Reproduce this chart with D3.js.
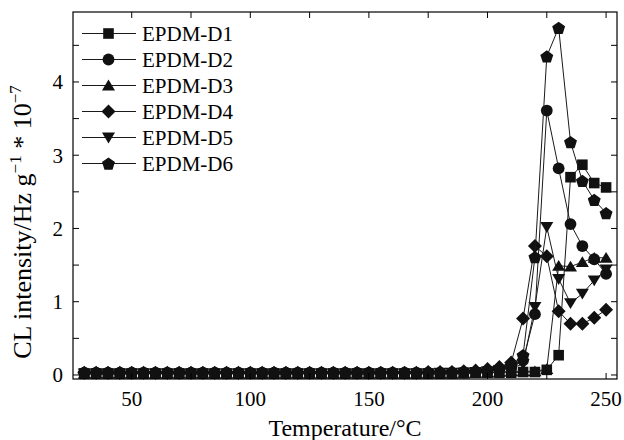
<!DOCTYPE html>
<html lang="en">
<head>
    <meta charset="UTF-8">
    <title>CL intensity</title>
    <script src="https://cdn.jsdelivr.net/npm/d3@7/dist/d3.min.js"></script>
    <style>
        body { margin: 0; background: #fff; }
        svg { display: block; font-family: "Liberation Serif", "Times New Roman", serif; }
        svg .frame { fill: none; stroke: #000; stroke-width: 1.2px; }
        svg .tick-line { stroke: #000; stroke-width: 1px; }
        svg .series-line { fill: none; stroke: #1a1a1a; stroke-width: 1px; }
        svg .marker { fill: #111; }
    </style>
</head>
<body>
    <svg width="624" height="440"></svg>
    <script>
        // temperatures (°C)
        var temps = [30, 35, 40, 45, 50, 55, 60, 65, 70, 75, 80, 85, 90, 95, 100,
            105, 110, 115, 120, 125, 130, 135, 140, 145, 150, 155, 160, 165, 170, 175,
            180, 185, 190, 195, 200, 205, 210, 215, 220, 225, 230, 235, 240, 245, 250];

        var names = ['EPDM-D1', 'EPDM-D2', 'EPDM-D3', 'EPDM-D4', 'EPDM-D5', 'EPDM-D6'];

        var d1 = [0.02, 0.02, 0.02, 0.02, 0.02, 0.02, 0.02, 0.02, 0.02, 0.02, 0.02, 0.02, 0.02, 0.02, 0.02,
            0.02, 0.02, 0.02, 0.02, 0.02, 0.02, 0.02, 0.02, 0.02, 0.02, 0.02, 0.02, 0.02, 0.02, 0.02,
            0.02, 0.02, 0.03, 0.03, 0.03, 0.03, 0.03, 0.04, 0.04, 0.07, 0.27, 2.70, 2.87, 2.62, 2.56];
        var d2 = [0.03, 0.03, 0.03, 0.03, 0.03, 0.03, 0.03, 0.03, 0.03, 0.03, 0.03, 0.03, 0.03, 0.03, 0.03,
            0.03, 0.03, 0.03, 0.03, 0.03, 0.03, 0.03, 0.03, 0.03, 0.03, 0.03, 0.03, 0.03, 0.03, 0.03,
            0.03, 0.03, 0.04, 0.04, 0.05, 0.07, 0.10, 0.20, 0.83, 3.61, 2.82, 2.06, 1.76, 1.58, 1.38];
        var d3s = [0.02, 0.02, 0.02, 0.02, 0.02, 0.02, 0.02, 0.02, 0.02, 0.02, 0.02, 0.02, 0.02, 0.02, 0.02,
            0.02, 0.02, 0.02, 0.02, 0.02, 0.02, 0.02, 0.02, 0.02, 0.02, 0.02, 0.02, 0.02, 0.02, 0.02,
            0.02, 0.02, 0.02, 0.03, 0.03, 0.04, 0.05, 0.05, 0.05, 0.08, 1.49, 1.48, 1.54, 1.60, 1.60];
        var d4 = [0.03, 0.03, 0.03, 0.03, 0.03, 0.03, 0.03, 0.03, 0.03, 0.03, 0.03, 0.03, 0.03, 0.03, 0.03,
            0.03, 0.03, 0.03, 0.03, 0.03, 0.03, 0.03, 0.03, 0.03, 0.03, 0.03, 0.03, 0.03, 0.03, 0.04,
            0.04, 0.04, 0.05, 0.06, 0.08, 0.11, 0.17, 0.77, 1.76, 1.62, 0.87, 0.70, 0.70, 0.78, 0.89];
        var d5 = [0.02, 0.02, 0.02, 0.02, 0.02, 0.02, 0.02, 0.02, 0.02, 0.02, 0.02, 0.02, 0.02, 0.02, 0.02,
            0.02, 0.02, 0.02, 0.02, 0.02, 0.02, 0.02, 0.02, 0.02, 0.02, 0.02, 0.02, 0.02, 0.02, 0.02,
            0.03, 0.03, 0.03, 0.04, 0.05, 0.07, 0.09, 0.15, 0.93, 2.02, 1.31, 0.98, 1.11, 1.29, 1.44];
        var d6 = [0.03, 0.03, 0.03, 0.03, 0.03, 0.03, 0.03, 0.03, 0.03, 0.03, 0.03, 0.03, 0.03, 0.03, 0.03,
            0.03, 0.03, 0.03, 0.03, 0.03, 0.03, 0.03, 0.03, 0.03, 0.03, 0.03, 0.03, 0.03, 0.03, 0.03,
            0.03, 0.04, 0.04, 0.05, 0.06, 0.09, 0.13, 0.27, 1.61, 4.35, 4.74, 3.18, 2.65, 2.39, 2.21];

        var xTicks = [50, 100, 150, 200, 250];
        var yTicks = [0, 1, 2, 3, 4];

        var svg = d3.select('svg'),
            plotL = 73, plotR = 617, plotT = 12, plotB = 379;

        var x = d3.scaleLinear().domain([25.25, 254.6]).range([plotL, plotR]),
            y = d3.scaleLinear().domain([-0.055, 4.955]).range([plotB, plotT]);

        // marker shapes, r ~ half width
        function square(r) { return 'M' + (-r) + ',' + (-r) + 'H' + r + 'V' + r + 'H' + (-r) + 'Z'; }
        function circle(r) { return 'M' + r + ',0A' + r + ',' + r + ' 0 1,1 ' + (-r) + ',0A' + r + ',' + r + ' 0 1,1 ' + r + ',0Z'; }
        function triUp(r) { return 'M0,' + (-r * 0.95) + 'L' + (r * 1.05) + ',' + (r * 0.8) + 'L' + (-r * 1.05) + ',' + (r * 0.8) + 'Z'; }
        function triDown(r) { return 'M0,' + (r * 0.95) + 'L' + (r * 1.05) + ',' + (-r * 0.8) + 'L' + (-r * 1.05) + ',' + (-r * 0.8) + 'Z'; }
        function diamond(r) { return 'M0,' + (-r) + 'L' + r + ',0L0,' + r + 'L' + (-r) + ',0Z'; }
        function pentagon(r) {
            var p = [];
            for (var i = 0; i < 5; i++) {
                var a = -Math.PI / 2 + i * 2 * Math.PI / 5;
                p.push((r * Math.cos(a)).toFixed(2) + ',' + (r * Math.sin(a) + r * 0.1).toFixed(2));
            }
            return 'M' + p.join('L') + 'Z';
        }

        var series = [
            { name: names[0], values: d1, shape: square(5.3) },
            { name: names[1], values: d2, shape: circle(5.9) },
            { name: names[2], values: d3s, shape: triUp(6.2) },
            { name: names[3], values: d4, shape: diamond(7) },
            { name: names[4], values: d5, shape: triDown(6.2) },
            { name: names[5], values: d6, shape: pentagon(6.8) }
        ];

        var line = d3.line()
            .x(function(d) { return x(d.t); })
            .y(function(d) { return y(d.v); });

        var plot = svg.append('g');

        series.forEach(function(s) {
            var pts = temps.map(function(t, i) { return { t: t, v: s.values[i] }; });
            var g = plot.append('g');
            g.append('path')
                .classed('series-line', true)
                .attr('d', line(pts));
            g.selectAll('path.marker')
                .data(pts)
                .enter()
                .append('path')
                .classed('marker', true)
                .attr('transform', function(d) { return 'translate(' + x(d.t) + ',' + y(d.v) + ')'; })
                .attr('d', s.shape);
        });

        // inward ticks on all four sides
        var xMinor = d3.range(50, 251, 25),
            yMinor = d3.range(0, 4.51, 0.5),
            tl = 6;

        var ticks = svg.append('g');
        xMinor.forEach(function(t) {
            ticks.append('line').classed('tick-line', true)
                .attr('x1', x(t)).attr('x2', x(t)).attr('y1', plotB).attr('y2', plotB - tl);
            ticks.append('line').classed('tick-line', true)
                .attr('x1', x(t)).attr('x2', x(t)).attr('y1', plotT).attr('y2', plotT + tl);
        });
        yMinor.forEach(function(v) {
            ticks.append('line').classed('tick-line', true)
                .attr('x1', plotL).attr('x2', plotL + tl).attr('y1', y(v)).attr('y2', y(v));
            ticks.append('line').classed('tick-line', true)
                .attr('x1', plotR).attr('x2', plotR - tl).attr('y1', y(v)).attr('y2', y(v));
        });

        svg.append('rect')
            .classed('frame', true)
            .attr('x', plotL).attr('y', plotT)
            .attr('width', plotR - plotL).attr('height', plotB - plotT);

        // tick labels
        svg.append('g').selectAll('text')
            .data(xTicks)
            .enter()
            .append('text')
            .attr('x', function(d) { return x(d); })
            .attr('y', 406)
            .attr('text-anchor', 'middle')
            .attr('font-size', 21)
            .text(function(d) { return d; });

        svg.append('g').selectAll('text')
            .data(yTicks)
            .enter()
            .append('text')
            .attr('x', 63)
            .attr('y', function(d) { return y(d); })
            .attr('dy', '0.35em')
            .attr('text-anchor', 'end')
            .attr('font-size', 21)
            .text(function(d) { return d; });

        // axis titles
        svg.append('text')
            .attr('x', 345)
            .attr('y', 436)
            .attr('text-anchor', 'middle')
            .attr('font-size', 24)
            .text('Temperature/\u00b0C');

        var yt = svg.append('text')
            .attr('transform', 'translate(31,222) rotate(-90)')
            .attr('text-anchor', 'middle')
            .attr('font-size', 26);
        yt.append('tspan').text('CL intensity/Hz g');
        yt.append('tspan').attr('dy', -10).attr('font-size', 17).text('\u22121');
        yt.append('tspan').attr('dy', 10).text(' * 10');
        yt.append('tspan').attr('dy', -10).attr('font-size', 17).text('\u22127');

        // legend
        var legend = svg.append('g');
        series.forEach(function(s, i) {
            var ly = 33.5 + i * 26;
            legend.append('line')
                .classed('series-line', true)
                .attr('x1', 82).attr('x2', 136)
                .attr('y1', ly).attr('y2', ly);
            legend.append('path')
                .classed('marker', true)
                .attr('transform', 'translate(108.5,' + ly + ')')
                .attr('d', s.shape);
            legend.append('text')
                .attr('x', 142)
                .attr('y', ly)
                .attr('dy', '0.35em')
                .attr('font-size', 21)
                .text(s.name);
        });
    </script>
</body>
</html>
